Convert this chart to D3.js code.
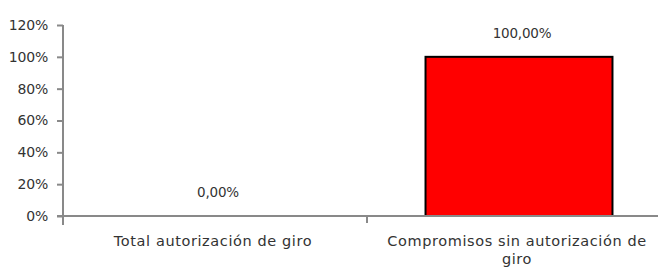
<!DOCTYPE html>
<html>
<head>
<meta charset="utf-8">
<script src="https://cdn.jsdelivr.net/npm/d3@7"></script>
<style>
  body { margin: 0; background: #fff; }
  svg { display: block; }
  text { font-family: "DejaVu Sans", sans-serif; fill: #333; }
</style>
</head>
<body>
<div id="chart"></div>
<script>
// datos
const categories = ["Total autorización de giro", "Compromisos sin autorización de giro"];
const values = [0, 1];
const valueLabels = ["0,00%", "100,00%"];
const yTicks = [0, 0.2, 0.4, 0.6, 0.8, 1.0, 1.2];

const width = 658;
const height = 271;

const svg = d3.select("#chart").append("svg")
  .attr("width", width)
  .attr("height", height);

const x = d3.scaleBand()
  .domain(categories)
  .range([63, 671])
  .paddingInner(0.385)
  .paddingOuter(0.1925);

const y = d3.scaleLinear().domain([0, 1.2]).range([216, 25]);

const fmt = d => Math.round(d * 100) + "%";

// eje y
const yAxis = svg.append("g")
  .attr("transform", "translate(63,0)")
  .call(d3.axisLeft(y).tickValues(yTicks).tickFormat(fmt).tickSizeOuter(0).tickSize(6).tickPadding(9));
yAxis.select(".domain").attr("stroke", "#898989").attr("stroke-width", 2)
  .attr("d", `M0,${y(1.2)}V${y(0) + 9}`);
yAxis.selectAll(".tick line").attr("stroke", "#898989").attr("stroke-width", 2);
yAxis.selectAll(".tick text").style("font-size", "14px").style("letter-spacing", "-0.2px").style("fill", "#333");

// barras
svg.selectAll("rect.bar")
  .data(values)
  .join("rect")
  .attr("class", "bar")
  .attr("x", (d, i) => x(categories[i]))
  .attr("width", x.bandwidth())
  .attr("y", d => y(d))
  .attr("height", d => y(0) - y(d))
  .attr("fill", "#ff0000")
  .attr("stroke", d => d > 0 ? "#000" : "none")
  .attr("stroke-width", 2);

// eje x
const xAxisG = svg.append("g").attr("transform", `translate(0,${y(0)})`);
xAxisG.append("line")
  .attr("x1", 57).attr("x2", 671)
  .attr("stroke", "#898989").attr("stroke-width", 2);
const boundaries = [63 + x.step()];
xAxisG.selectAll("line.sep")
  .data(boundaries)
  .join("line")
  .attr("class", "sep")
  .attr("x1", d => d).attr("x2", d => d)
  .attr("y1", 0).attr("y2", 7)
  .attr("stroke", "#898989").attr("stroke-width", 2);

// etiquetas de valor
svg.selectAll("text.val")
  .data(values)
  .join("text")
  .attr("class", "val")
  .attr("x", (d, i) => x(categories[i]) + x.bandwidth() / 2 + 3)
  .attr("y", d => y(d) - 19)
  .attr("text-anchor", "middle")
  .style("font-size", "13.5px")
  .style("letter-spacing", "-0.2px")
  .text((d, i) => valueLabels[i]);

// etiquetas de categoría (con salto de línea)
const catLines = [["Total autorización de giro"], ["Compromisos sin autorización de", "giro"]];
categories.forEach((c, i) => {
  const cx = x(c) + x.bandwidth() / 2 - 2;
  const t = svg.append("text")
    .attr("x", cx)
    .attr("y", 246)
    .attr("text-anchor", "middle")
    .style("font-size", "14.5px")
    .style("letter-spacing", "0.6px");
  catLines[i].forEach((l, j) => {
    t.append("tspan").attr("x", cx).attr("dy", j === 0 ? 0 : 18).text(l);
  });
});
</script>
</body>
</html>
